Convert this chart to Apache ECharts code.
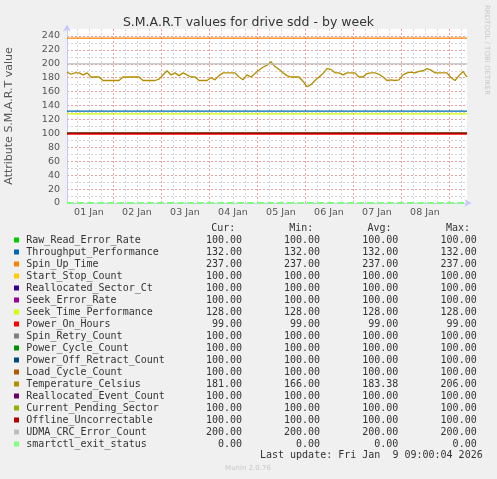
<!DOCTYPE html>
<html><head><meta charset="utf-8">
<script src="https://cdn.jsdelivr.net/npm/echarts@6/dist/echarts.min.js"></script>
<style>html,body{margin:0;padding:0;background:#f0f0f0}#c{width:497px;height:479px}</style>
</head><body><div id="c"></div>
<script>
const names = ['Raw_Read_Error_Rate','Throughput_Performance','Spin_Up_Time','Start_Stop_Count','Reallocated_Sector_Ct','Seek_Error_Rate','Seek_Time_Performance','Power_On_Hours','Spin_Retry_Count','Power_Cycle_Count','Power_Off_Retract_Count','Load_Cycle_Count','Temperature_Celsius','Reallocated_Event_Count','Current_Pending_Sector','Offline_Uncorrectable','UDMA_CRC_Error_Count','smartctl_exit_status'];
const colors = ['#00CC00','#0066B3','#FF8000','#FFCC00','#330099','#990099','#CCFF00','#FF0000','#808080','#008F00','#00487D','#B35A00','#B38F00','#6B006B','#8FB300','#B30000','#BEBEBE','#80FF80'];
const curValues = [100,132,237,100,100,100,128,99,100,100,100,100,181,100,100,100,200,0];
const minValues = [100,132,237,100,100,100,128,99,100,100,100,100,166,100,100,100,200,0];
const avgValues = [100,132,237,100,100,100,128,99,100,100,100,100,183.38,100,100,100,200,0];
const maxValues = [100,132,237,100,100,100,128,99,100,100,100,100,206,100,100,100,200,0];
const dayLabels = ['01 Jan','02 Jan','03 Jan','04 Jan','05 Jan','06 Jan','07 Jan','08 Jan'];
const xStartHour = 1, xEndHour = 201;
const tempStartHour = 1, tempStepHours = 2;
const temperature = [188,185,187,187,184,187,181,181,181,176,
176,176,176,176,181,181,181,181,181,176,
176,176,176,178,184,190,184,187,183,187,
184,181,181,176,176,176,180,177,183,187,
187,187,187,181,177,184,181,186,191,195,
198,203,196,192,187,183,181,181,181,175,
167,170,176,181,186,193,192,187,187,184,
187,187,187,181,181,186,187,187,185,181,
176,177,176,177,184,187,188,187,189,190,
193,191,187,187,187,187,180,176,183,189,
181];
const TEMP_INDEX = 12;
const lastUpdate = 'Last update: Fri Jan  9 09:00:04 2026';

const MAJOR = '#eba0a0', MINOR = '#d4d4d4', NONE = 'rgba(0,0,0,0)';
const xSplitColors = [];
for (let i = 0; i < 24; i++) { const h = xStartHour + i; xSplitColors.push(h % 24 === 0 ? MAJOR : (h % 6 === 0 ? MINOR : NONE)); }
const ySplitColors = [];
for (let i = 0; i <= 25; i++) { ySplitColors.push(i === 0 || i === 25 ? NONE : (i % 2 === 0 ? MAJOR : MINOR)); }

const series = names.map((n, i) => {
  let data;
  if (i === TEMP_INDEX) data = temperature.map((v, k) => [tempStartHour + k * tempStepHours, v]);
  else data = [[xStartHour, curValues[i]], [xEndHour, curValues[i]]];
  const s = { name: n, type: 'line', data, symbol: 'none', silent: true, z: 3 + i,
    lineStyle: { color: colors[i], width: 1.3 } };
  if (i === names.length - 1) { s.lineStyle = { color: colors[i], width: 2, type: [7, 3] }; }
  return s;
});

const mono = 'DejaVu Sans Mono';
const graphics = [];
const rowY0 = 240, rowH = 12;
const colRight = [242, 320, 398.3, 476.7];
const headers = ['Cur:', 'Min:', 'Avg:', 'Max:'];
headers.forEach((h, c) => graphics.push({ type: 'text', x: colRight[c] - 6.7, y: 228.3,
  style: { text: h, font: '10px "' + mono + '"', fill: '#333', align: 'right', verticalAlign: 'middle' } }));
names.forEach((n, i) => {
  const y = rowY0 + i * rowH;
  graphics.push({ type: 'rect', shape: { x: 14, y: y - 2.5, width: 5, height: 5 }, style: { fill: colors[i] } });
  graphics.push({ type: 'text', x: 26.3, y, style: { text: n, font: '10px "' + mono + '"', fill: '#333', verticalAlign: 'middle' } });
  [curValues, minValues, avgValues, maxValues].forEach((arr, c) => graphics.push({ type: 'text', x: colRight[c], y,
    style: { text: arr[i].toFixed(2), font: '10px "' + mono + '"', fill: '#333', align: 'right', verticalAlign: 'middle' } }));
});
graphics.push({ type: 'text', x: 482.7, y: 455.7, style: { text: lastUpdate, font: '10px "' + mono + '"', fill: '#333', align: 'right', verticalAlign: 'middle' } });
graphics.push({ type: 'text', x: 248, y: 467.7, style: { text: 'Munin 2.0.76', font: '7px "DejaVu Sans"', fill: '#c8c8c8', align: 'center', verticalAlign: 'middle' } });
graphics.push({ type: 'text', x: 487, y: 5, rotation: -Math.PI / 2, style: { text: 'RRDTOOL / TOBI OETIKER', font: '7px "DejaVu Sans"', fill: '#c8c8c8', align: 'left', verticalAlign: 'middle' } });

const chart = echarts.init(document.getElementById('c'));
chart.setOption({
  animation: false,
  backgroundColor: '#f0f0f0',
  title: { text: 'S.M.A.R.T values for drive sdd - by week', left: 'center', top: 11,
    textStyle: { fontFamily: 'DejaVu Sans', fontSize: 12.5, fontWeight: 'normal', color: '#333' } },
  grid: { left: 67, right: 30, top: 29, bottom: 276, backgroundColor: '#ffffff', show: true, borderWidth: 0,
    containLabel: false, outerBoundsMode: 'none' },
  xAxis: { type: 'value', min: xStartHour, max: xEndHour, interval: 1,
    axisLine: { show: true, lineStyle: { color: '#c8c8ff', width: 1 }, symbol: ['none', 'arrow'], symbolSize: [6, 7], symbolOffset: [0, 4.5] },
    axisTick: { show: false },
    axisLabel: { margin: 5, fontFamily: 'DejaVu Sans', fontSize: 9.5, color: '#555',
      formatter: v => ((v - 12) % 24 === 0 ? (dayLabels[(v - 12) / 24] || '') : '') },
    splitLine: { show: true, lineStyle: { color: xSplitColors, type: [2, 2], width: 1 } } },
  yAxis: { type: 'value', min: 0, max: 250, interval: 10,
    name: 'Attribute S.M.A.R.T value', nameLocation: 'middle', nameGap: 52, nameRotate: 90,
    nameTextStyle: { fontFamily: 'DejaVu Sans', fontSize: 11, color: '#555' },
    axisLine: { show: true, lineStyle: { color: '#c8c8ff', width: 1 }, symbol: ['none', 'arrow'], symbolSize: [6, 7], symbolOffset: [0, 4.5] },
    axisTick: { show: false },
    axisLabel: { margin: 7, fontFamily: 'DejaVu Sans', fontSize: 9.5, color: '#555',
      formatter: v => (v % 20 === 0 && v <= 240 ? String(v) : '') },
    splitLine: { show: true, lineStyle: { color: ySplitColors, type: [2, 2], width: 1 } } },
  series,
  graphic: graphics
});
</script></body></html>
